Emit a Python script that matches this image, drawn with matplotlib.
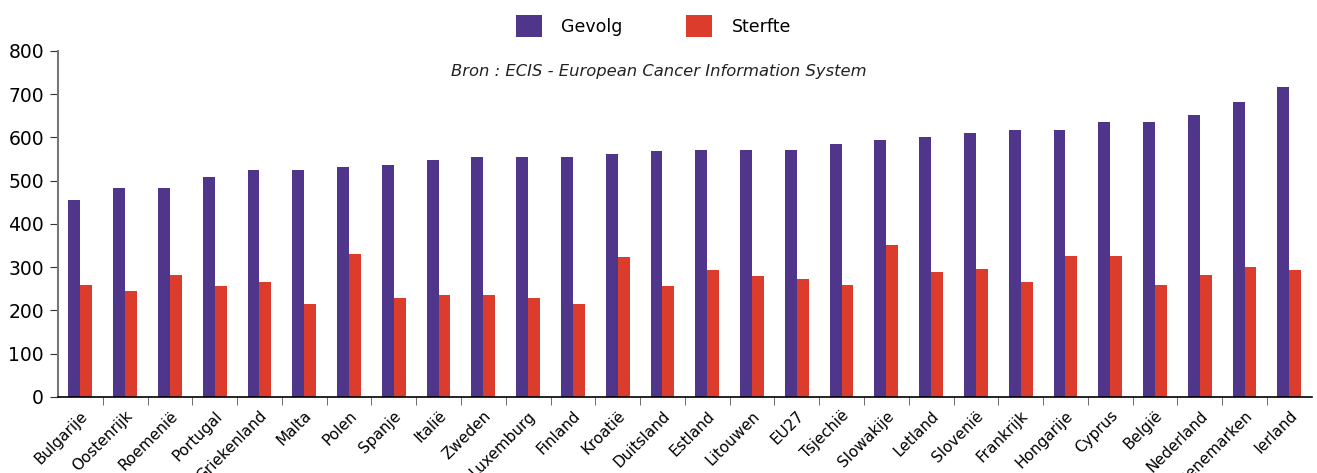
import matplotlib.pyplot as plt
import numpy as np

# Data
landen = ['Bulgarije', 'Oostenrijk', 'Roemenië', 'Portugal', 'Griekenland', 'Malta',
          'Polen', 'Spanje', 'Italië', 'Zweden', 'Luxemburg', 'Finland', 'Kroatië',
          'Duitsland', 'Estland', 'Litouwen', 'EU27', 'Tsjechië', 'Slowakije',
          'Letland', 'Slovenië', 'Frankrijk', 'Hongarije', 'Cyprus', 'België',
          'Nederland', 'Denemarken', 'Ierland']
gevolg = [455, 483, 483, 508, 524, 524, 531, 536, 547, 554, 554, 554, 561,
          568, 571, 571, 571, 585, 594, 601, 610, 617, 617, 636, 636, 652, 682, 717]
sterfte = [258, 246, 283, 256, 265, 216, 330, 230, 235, 235, 230, 216, 323,
           256, 293, 279, 272, 258, 351, 288, 297, 265, 327, 327, 258, 283, 300, 293]

paars = '#4f368b'
rood = '#dc3c2c'

fig = plt.figure(figsize=(13.17, 4.73), dpi=100)
ax = fig.add_axes([0.044, 0.1607, 0.952, 0.7315])

x = np.arange(len(landen))
w = 0.265
ax.bar(x - w/2, gevolg, w, color=paars, label='Gevolg')
ax.bar(x + w/2, sterfte, w, color=rood, label='Sterfte')

ax.set_xlim(-0.5, len(landen) - 0.5)
ax.set_ylim(0, 800)
ax.set_yticks(np.arange(0, 801, 100))
ax.tick_params(axis='y', labelsize=13.5, length=6, color='#333333', pad=4)

ax.set_xticks(x)
ax.set_xticklabels(landen, rotation=45, ha='right', rotation_mode='anchor', fontsize=11)
ax.set_xticks(np.arange(0.5, len(landen) - 0.5, 1), minor=True)
ax.tick_params(axis='x', which='major', length=0, pad=8)
ax.tick_params(axis='x', which='minor', length=6, color='#555555')

for s in ['top', 'right']:
    ax.spines[s].set_visible(False)
ax.spines['left'].set_color('#777777')
ax.spines['left'].set_linewidth(1.5)
ax.spines['bottom'].set_color('black')
ax.spines['bottom'].set_linewidth(1.2)

fig.text(0.5, 0.848, 'Bron : ECIS - European Cancer Information System',
         ha='center', va='center', fontsize=11.8, style='italic', color='#222222')

fig.legend(loc='center', bbox_to_anchor=(0.496, 0.945), ncol=2, frameon=False,
           fontsize=12.5, handlelength=1.5, handleheight=1.5, handletextpad=1.1,
           columnspacing=3.7)

plt.savefig('out.png', dpi=100)
